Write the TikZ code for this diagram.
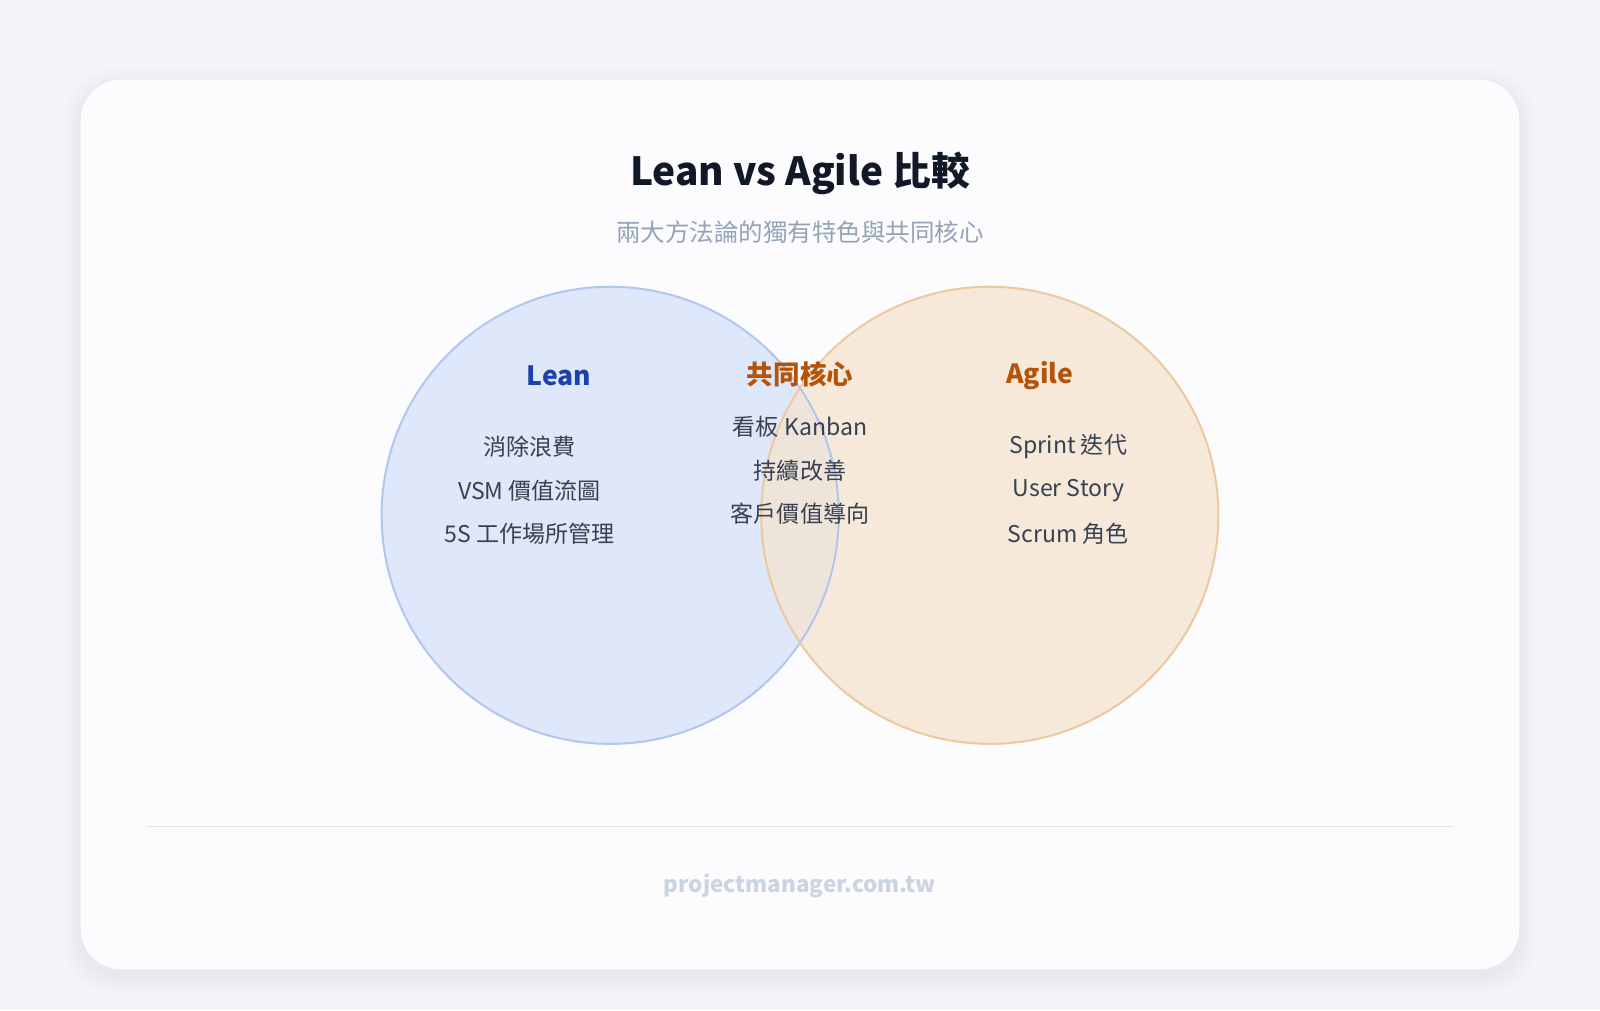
\documentclass[tikz,border=0pt]{standalone}
\usepackage{fontspec}
\setmainfont{Noto Sans CJK TC}
\definecolor{bgc}{HTML}{F4F5FA}
\definecolor{cardc}{HTML}{FCFCFE}
\definecolor{titlec}{HTML}{111827}
\definecolor{subc}{HTML}{94A3B8}
\definecolor{itemc}{HTML}{374151}
\definecolor{leanc}{HTML}{1E40AF}
\definecolor{agilec}{HTML}{B45309}
\definecolor{lfill}{HTML}{D6E2FA}
\definecolor{lline}{HTML}{B3C6F0}
\definecolor{rfill}{HTML}{F5E3CF}
\definecolor{rline}{HTML}{EDC9A0}
\definecolor{footc}{HTML}{CBD5E1}
\begin{document}
\begin{tikzpicture}[x=0.5pt,y=-0.5pt,
  item/.style={font=\fontsize{11.3}{13}\selectfont,text=itemc},
  head/.style={font=\fontsize{13}{15}\selectfont\bfseries}]
\useasboundingbox (0,0) rectangle (1568,990);
\fill[bgc] (0,0) rectangle (1568,990);
\foreach \d in {16,12,8,4}{
  \fill[black,opacity=0.012,rounded corners=24pt] (79-\d,78-\d+6) rectangle (1489+\d,950+\d+6);
}
\fill[cardc,rounded corners=20pt] (79,78) rectangle (1489,950);
\node[font=\fontsize{19}{22}\selectfont\bfseries,text=titlec] (title) at (784,170) {Lean vs Agile 比較};
\node[font=\fontsize{12}{14}\selectfont,text=subc] (sub) at (784,228) {兩大方法論的獨有特色與共同核心};
\fill[lfill,fill opacity=0.75] (598,505) circle (224);
\fill[rfill,fill opacity=0.75] (970,505) circle (224);
\draw[lline,line width=1pt] (598,505) circle (224);
\draw[rline,line width=1pt] (970,505) circle (224);
\node[head,text=leanc] (lean) at (548,368) {Lean};
\node[head,text=agilec] (core) at (784,367) {共同核心};
\node[head,text=agilec] (agile) at (1019,368) {Agile};
\node[item] (l1) at (519,438) {消除浪費};
\node[item] (l2) at (519,481) {VSM 價值流圖};
\node[item] (l3) at (519,523) {5S 工作場所管理};
\node[item] (c1) at (784,418) {看板 Kanban};
\node[item] (c2) at (784,461) {持續改善};
\node[item] (c3) at (784,503) {客戶價值導向};
\node[item] (a1) at (1047,438) {Sprint 迭代};
\node[item] (a2) at (1047,481) {User Story};
\node[item] (a3) at (1047,523) {Scrum 角色};
\coordinate (ls) at (143,810); \coordinate (le) at (1425,810);
\draw[color=black!10,line width=0.6pt] (ls) -- (le);
\node[font=\fontsize{11}{13}\selectfont\bfseries,text=footc] (foot) at (784,868) {projectmanager.com.tw};
\end{tikzpicture}
\end{document}
